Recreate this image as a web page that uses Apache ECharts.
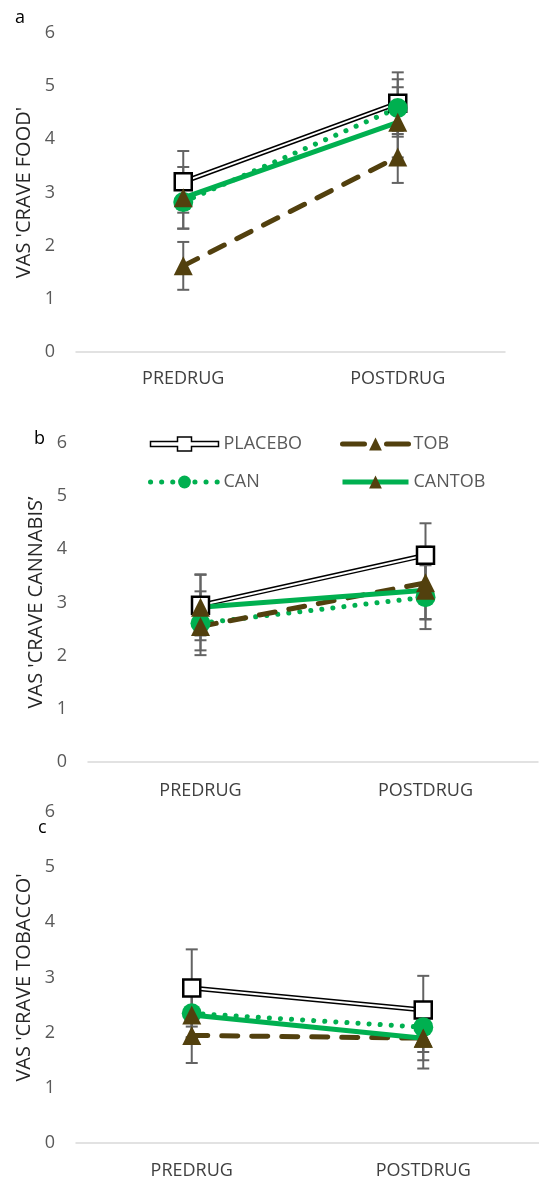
<!DOCTYPE html>
<html><head><meta charset="utf-8">
<script src="https://cdn.jsdelivr.net/npm/echarts@6/dist/echarts.min.js"></script>
<style>html,body{margin:0;padding:0;background:#fff}#c{width:539px;height:1183px}</style>
</head><body><div id="c"></div>
<script>
// ---------- data ----------
const categories = ['PREDRUG', 'POSTDRUG'];
const panelLetters = ['a', 'b', 'c'];
const yTitles = ["VAS 'CRAVE FOOD'", "VAS 'CRAVE CANNABIS\u2019", "VAS 'CRAVE TOBACCO'"];
const seriesNames = ['PLACEBO', 'TOB', 'CAN', 'CANTOB'];

// panel a - crave food
const foodPlacebo = [3.2, 4.68];
const foodTob = [1.62, 3.67];
const foodCan = [2.82, 4.59];
const foodCantob = [2.9, 4.32];
const foodPlaceboErr = [0.58, 0.58];
const foodTobErr = [0.45, 0.49];
const foodCanErr = [0.5, 0.54];
const foodCantobErr = [0.58, 0.66];

// panel b - crave cannabis
const cannabisPlacebo = [2.95, 3.89];
const cannabisTob = [2.55, 3.37];
const cannabisCan = [2.61, 3.1];
const cannabisCantob = [2.91, 3.23];
const cannabisPlaceboErr = [0.57, 0.6];
const cannabisTobErr = [0.45, 0.68];
const cannabisCanErr = [0.6, 0.6];
const cannabisCantobErr = [0.62, 0.55];

// panel c - crave tobacco
const tobaccoPlacebo = [2.81, 2.41];
const tobaccoTob = [1.95, 1.9];
const tobaccoCan = [2.35, 2.1];
const tobaccoCantob = [2.32, 1.9];
const tobaccoPlaceboErr = [0.7, 0.62];
const tobaccoTobErr = [0.5, 0.55];
const tobaccoCanErr = [0.45, 0.45];
const tobaccoCantobErr = [0.4, 0.4];

// ---------- styling ----------
const FONT = 'Open Sans';
const GREEN = '#00B050';
const BROWN = '#52400E';
const ERR = '#636363';

const panels = [
  {vals: [foodPlacebo, foodTob, foodCan, foodCantob], errs: [foodPlaceboErr, foodTobErr, foodCanErr, foodCantobErr]},
  {vals: [cannabisPlacebo, cannabisTob, cannabisCan, cannabisCantob], errs: [cannabisPlaceboErr, cannabisTobErr, cannabisCanErr, cannabisCantobErr]},
  {vals: [tobaccoPlacebo, tobaccoTob, tobaccoCan, tobaccoCantob], errs: [tobaccoPlaceboErr, tobaccoTobErr, tobaccoCanErr, tobaccoCantobErr]}
];

const grids = [
  {left: 76, top: 33, width: 429, height: 319},
  {left: 88, top: 443, width: 450, height: 319},
  {left: 76, top: 812, width: 463, height: 331}
];
const nameGaps = [36, 33, 36];
const catMargins = [18, 20, 19];

function renderErr(params, api) {
  const x = api.value(0), lo = api.value(1), hi = api.value(2);
  const p1 = api.coord([x, hi]), p2 = api.coord([x, lo]);
  const hw = 6;
  const style = {stroke: ERR, lineWidth: 2};
  return {type: 'group', children: [
    {type: 'line', shape: {x1: p1[0], y1: p1[1], x2: p2[0], y2: p2[1]}, style: style},
    {type: 'line', shape: {x1: p1[0] - hw, y1: p1[1], x2: p1[0] + hw, y2: p1[1]}, style: style},
    {type: 'line', shape: {x1: p2[0] - hw, y1: p2[1], x2: p2[0] + hw, y2: p2[1]}, style: style}
  ]};
}

const xAxes = [], yAxes = [], series = [];
panels.forEach((p, i) => {
  xAxes.push({
    type: 'category', gridIndex: i, data: categories, boundaryGap: true,
    axisLine: {lineStyle: {color: '#d9d9d9', width: 1.5}},
    axisTick: {show: false},
    axisLabel: {color: '#404040', fontSize: 18, fontFamily: FONT, margin: catMargins[i]}
  });
  yAxes.push({
    type: 'value', gridIndex: i, min: 0, max: 6, interval: 1,
    splitLine: {show: false}, axisLine: {show: false}, axisTick: {show: false},
    axisLabel: {color: '#595959', fontSize: 18, fontFamily: FONT, margin: 21},
    name: yTitles[i], nameLocation: 'middle', nameGap: nameGaps[i], nameRotate: 90,
    nameTextStyle: {color: '#262626', fontSize: 20, fontFamily: FONT}
  });
  // error bars
  const errData = [];
  p.vals.forEach((v, s) => {
    v.forEach((val, k) => errData.push([k, val - p.errs[s][k], val + p.errs[s][k]]));
  });
  series.push({
    type: 'custom', xAxisIndex: i, yAxisIndex: i, z: 1, silent: true,
    renderItem: renderErr, data: errData, encode: {x: 0, y: [1, 2]}
  });
  const common = {type: 'line', xAxisIndex: i, yAxisIndex: i, z: 2};
  // PLACEBO double line: black outer + white inner with square marker
  series.push(Object.assign({}, common, {
    name: 'PLACEBO', data: p.vals[0], symbol: 'none',
    lineStyle: {color: '#000', width: 5}, itemStyle: {color: '#000'}
  }));
  series.push(Object.assign({}, common, {
    name: 'PLACEBO', data: p.vals[0], symbol: 'rect', symbolSize: 17,
    lineStyle: {color: '#fff', width: 2},
    itemStyle: {color: '#fff', borderColor: '#000', borderWidth: 2.5}
  }));
  // CAN dotted green with circles
  series.push(Object.assign({}, common, {
    name: 'CAN', data: p.vals[2], symbol: 'circle', symbolSize: 20,
    lineStyle: {color: GREEN, width: 5, type: [0.1, 11], cap: 'round'},
    itemStyle: {color: GREEN}
  }));
  // TOB dashed brown with triangles
  series.push(Object.assign({}, common, {
    name: 'TOB', data: p.vals[1], symbol: 'triangle', symbolSize: 19,
    lineStyle: {color: BROWN, width: 5, type: [16, 14], cap: 'round'},
    itemStyle: {color: BROWN}
  }));
  // CANTOB solid green with brown triangles
  series.push(Object.assign({}, common, {
    name: 'CANTOB', data: p.vals[3], symbol: 'triangle', symbolSize: 19,
    lineStyle: {color: GREEN, width: 5},
    itemStyle: {color: BROWN}
  }));
});

const legendText = {color: '#595959', fontSize: 18, fontFamily: FONT, lineHeight: 20};
const placeboIcon = 'path://M0,5.5H27V1H41V5.5H68V10.5H41V15H27V10.5H0Z';

const option = {
  animation: false,
  backgroundColor: '#fff',
  title: [
    {text: 'a', left: 10, top: 4, textStyle: {color: '#000', fontSize: 18, fontWeight: 'normal', fontFamily: FONT}},
    {text: 'b', left: 29, top: 425, textStyle: {color: '#000', fontSize: 18, fontWeight: 'normal', fontFamily: FONT}},
    {text: 'c', left: 33, top: 814, textStyle: {color: '#000', fontSize: 18, fontWeight: 'normal', fontFamily: FONT}}
  ],
  legend: [
    {orient: 'vertical', left: 143, top: 429, itemWidth: 68, itemHeight: 16, itemGap: 18,
     textStyle: legendText, selectedMode: false,
     lineStyle: {width: 5},
     data: [{name: 'PLACEBO', icon: placeboIcon, itemStyle: {color: '#fff', borderColor: '#000', borderWidth: 1.5}},
            {name: 'CAN', lineStyle: {width: 5, type: [0.1, 11], cap: 'round'}}]},
    {orient: 'vertical', left: 335, top: 429, itemWidth: 66, itemHeight: 16, itemGap: 18,
     textStyle: legendText, selectedMode: false,
     lineStyle: {width: 5},
     data: [{name: 'TOB', lineStyle: {width: 5, type: [22, 22], cap: 'round'}},
            {name: 'CANTOB', lineStyle: {width: 5}}]}
  ],
  grid: grids,
  xAxis: xAxes,
  yAxis: yAxes,
  series: series
};

const chart = echarts.init(document.getElementById('c'), null, {renderer: 'canvas'});
chart.setOption(option);
</script>
</body></html>
